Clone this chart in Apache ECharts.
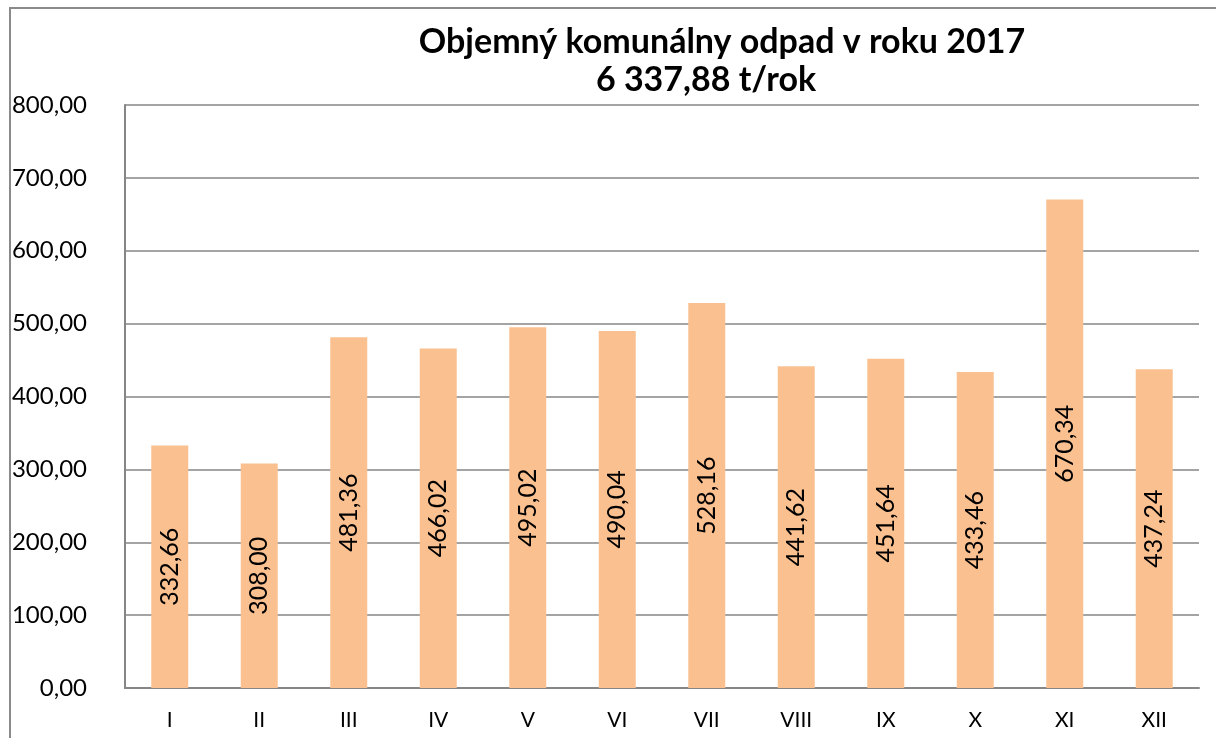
<!DOCTYPE html>
<html>
<head>
<meta charset="utf-8">
<script src="https://cdn.jsdelivr.net/npm/echarts@6/dist/echarts.min.js"></script>
<style>
  html, body { margin: 0; padding: 0; background: #fff; }
  #chart { width: 1216px; height: 738px; }
</style>
</head>
<body>
<div id="chart"></div>
<script>
const months = ["I", "II", "III", "IV", "V", "VI", "VII", "VIII", "IX", "X", "XI", "XII"];
const tons = [332.66, 308.00, 481.36, 466.02, 495.02, 490.04, 528.16, 441.62, 451.64, 433.46, 670.34, 437.24];
const titleMain = "Objemný komunálny odpad v roku 2017";
const titleSub = "6 337,88 t/rok";

const font = "Lato, 'Noto Sans', sans-serif";
const fmt = (v) => v.toFixed(2).replace(".", ",");
const titleStyle = { fontFamily: font, fontSize: 34, fontWeight: "bold", color: "#000" };

const chart = echarts.init(document.getElementById("chart"), null, { renderer: "canvas" });

chart.setOption({
  animation: false,
  backgroundColor: "#fff",
  title: [
    { text: titleMain, left: 717, top: 20, textAlign: "center", textStyle: titleStyle },
    { text: titleSub, left: 701, top: 58, textAlign: "center", textStyle: titleStyle }
  ],
  graphic: [{
    type: "rect",
    shape: { x: 10, y: 8, width: 1400, height: 900 },
    style: { fill: "none", stroke: "#8a8a8a", lineWidth: 2 },
    silent: true
  }],
  grid: { left: 125, right: 17, top: 105, bottom: 50 },
  xAxis: {
    type: "category",
    data: months,
    axisLine: { lineStyle: { color: "#868686", width: 2 } },
    axisTick: { show: false },
    axisLabel: { fontFamily: font, fontSize: 21, color: "#000", margin: 22 }
  },
  yAxis: {
    type: "value",
    min: 0,
    max: 800,
    interval: 100,
    axisLine: { show: true, lineStyle: { color: "#868686", width: 2 } },
    axisTick: { show: false },
    splitLine: { lineStyle: { color: "#868686", width: 1.5 } },
    axisLabel: { fontFamily: font, fontSize: 24, color: "#000", margin: 38, formatter: fmt }
  },
  series: [{
    type: "bar",
    data: tons,
    barWidth: 37,
    itemStyle: { color: "#FAC090" },
    label: {
      show: true,
      position: "inside",
      rotate: 90,
      fontFamily: font,
      fontSize: 25,
      color: "#000",
      formatter: (p) => fmt(p.value)
    }
  }]
});
</script>
</body>
</html>
